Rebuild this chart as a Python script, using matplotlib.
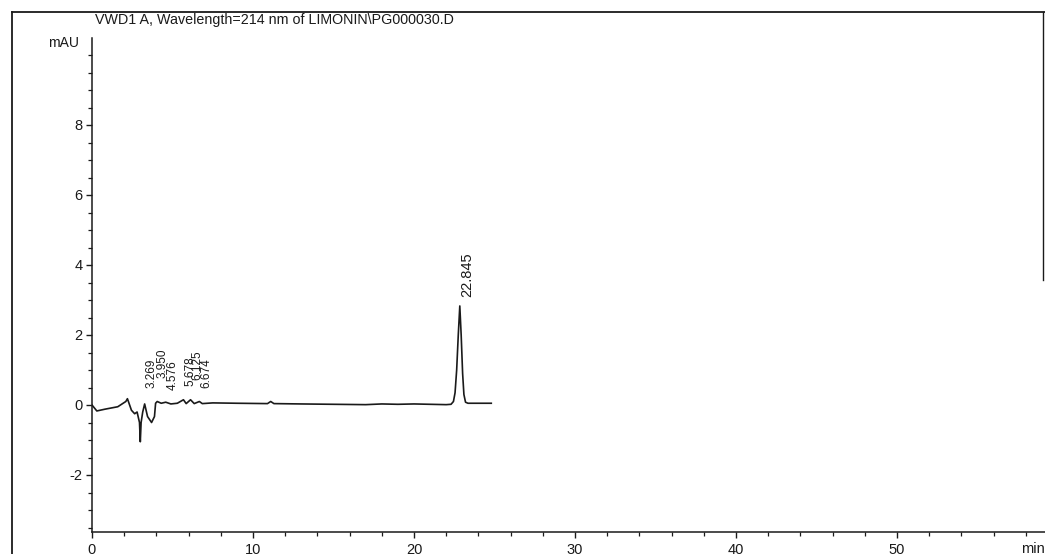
import matplotlib
matplotlib.use("Agg")
import matplotlib.pyplot as plt
from matplotlib.lines import Line2D
from matplotlib.ticker import MultipleLocator

plt.rcParams['font.family'] = ['Liberation Sans', 'DejaVu Sans']
plt.rcParams['axes.unicode_minus'] = False

# ---- data ----
title = "VWD1 A, Wavelength=214 nm of LIMONIN\\PG000030.D"
y_unit = "mAU"
x_unit = "min"

time_min = [0.0, 0.3, 0.8, 1.6, 2.1, 2.2, 2.45, 2.65, 2.8, 2.95, 3.0, 3.05,
            3.15, 3.27, 3.45, 3.7, 3.88, 3.95, 4.05, 4.3, 4.58, 4.9, 5.3,
            5.68, 5.85, 6.12, 6.35, 6.67, 6.85, 7.5, 9.0, 10.9, 11.1, 11.3,
            13.0, 15.0, 17.0, 18.0, 19.0, 20.0, 21.0, 22.0, 22.3, 22.45,
            22.55, 22.65, 22.75, 22.845, 22.93, 23.02, 23.1, 23.2, 23.35,
            24.0, 24.8]
signal_mau = [0.0, -0.17, -0.12, -0.05, 0.1, 0.18, -0.15, -0.25, -0.2, -0.5,
              -1.05, -0.5, -0.2, 0.03, -0.33, -0.5, -0.33, 0.05, 0.1, 0.05,
              0.08, 0.03, 0.05, 0.15, 0.04, 0.15, 0.04, 0.1, 0.04, 0.06,
              0.05, 0.04, 0.1, 0.04, 0.03, 0.02, 0.01, 0.03, 0.02, 0.03,
              0.02, 0.01, 0.02, 0.1, 0.35, 1.0, 2.0, 2.83, 2.0, 0.9, 0.3,
              0.08, 0.05, 0.05, 0.05]

peak_rt = ["3.269", "3.950", "4.576", "5.678", "6.125", "6.674", "22.845"]
peak_height = [0.03, 0.1, 0.08, 0.15, 0.15, 0.1, 2.83]

x_ticks = [0, 10, 20, 30, 40, 50]
y_ticks = [-2, 0, 2, 4, 6, 8]

# ---- figure ----
W, H = 1045, 554
PX_PER_MIN = 16.1
fig = plt.figure(figsize=(W / 100, H / 100), dpi=100)
ax = fig.add_axes([92 / W, 1 - 532 / H, (W - 92) / W, (532 - 38) / H])

ax.plot(time_min, signal_mau, color='#1a1a1a', lw=1.2)

ax.set_xlim(0, (W - 92) / PX_PER_MIN)
ax.set_ylim(-(532 - 405) / 35.0, (405 - 38) / 35.0)

ax.set_xticks(x_ticks)
ax.set_yticks(y_ticks)
ax.xaxis.set_minor_locator(MultipleLocator(2))
ax.yaxis.set_minor_locator(MultipleLocator(0.5))
ax.tick_params(axis='both', which='major', direction='out', length=4,
               width=1, labelsize=10.5, colors='#1a1a1a')
ax.tick_params(axis='both', which='minor', direction='out', length=3,
               width=0.9, colors='#1a1a1a')
ax.tick_params(axis='x', pad=4)
ax.tick_params(axis='y', pad=3)

for s in ['top', 'right']:
    ax.spines[s].set_visible(False)
for s in ['left', 'bottom']:
    ax.spines[s].set_linewidth(1.1)
    ax.spines[s].set_color('#1a1a1a')

# peak labels (retention times)
label_lift = [16, 24, 12, 14, 20, 14, 9]   # pixel offsets (style)
label_size = [8.5, 8.5, 8.5, 8.5, 8.5, 8.5, 10.5]
for lab, h, lift, fs in zip(peak_rt, peak_height, label_lift, label_size):
    ax.annotate(lab, xy=(float(lab), h), xytext=(7, lift),
                textcoords='offset pixels', rotation=90, ha='center',
                va='bottom', fontsize=fs, color='#1a1a1a')

# axis unit labels
fig.text(79 / W, 1 - 43 / H, y_unit, ha='right', va='center', fontsize=10,
         color='#1a1a1a')
fig.text(1.0, 1 - 542 / H, x_unit, ha='right', va='top',
         fontsize=10.5, color='#1a1a1a')

# title
fig.text(95 / W, 1 - 20 / H, title, ha='left', va='center', fontsize=10.3,
         color='#1a1a1a')

# outer frame (left, top, right)
fig.add_artist(Line2D([12 / W, 12 / W], [0, 1 - 12 / H],
                      transform=fig.transFigure, color='#1a1a1a', lw=1.3))
fig.add_artist(Line2D([12 / W, 1], [1 - 12 / H, 1 - 12 / H],
                      transform=fig.transFigure, color='#1a1a1a', lw=1.3))
fig.add_artist(Line2D([1043 / W, 1043 / W], [1 - 280 / H, 1 - 12 / H],
                      transform=fig.transFigure, color='#1a1a1a', lw=1.0))

fig.savefig("out.png", dpi=100)
